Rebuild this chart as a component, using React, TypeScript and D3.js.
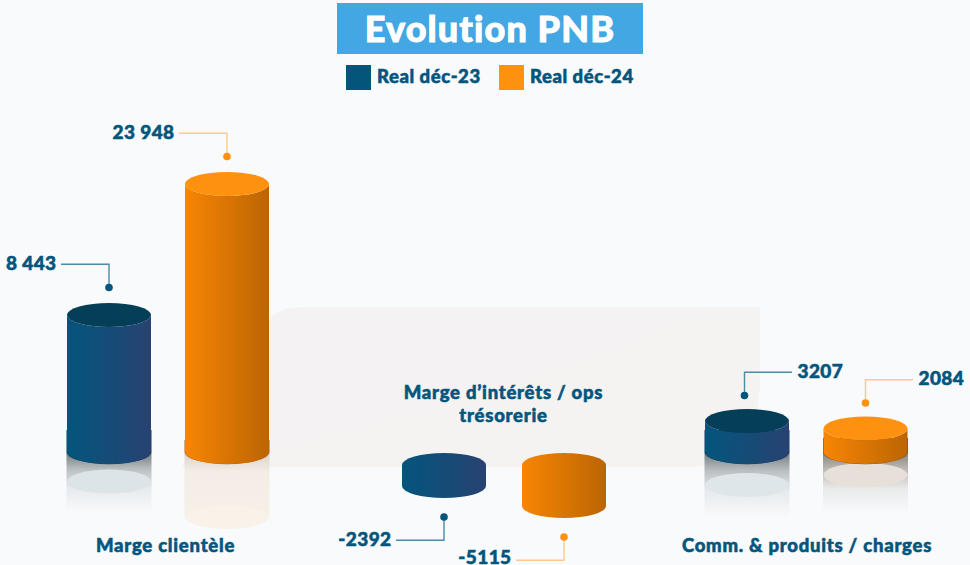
import React from "react";
import * as d3 from "d3";

const categories = ["Marge clientèle", "Marge d’intérêts / ops trésorerie", "Comm. & produits / charges"];
const seriesNames = ["Real déc-23", "Real déc-24"];
const real23 = [8443, -2392, 3207];
const real24 = [23948, -5115, 2084];
const labels23 = ["8 443", "-2392", "3207"];
const labels24 = ["23 948", "-5115", "2084"];
const knotValues = [-5115, -2392, 0, 2084, 3207, 8443, 23948];
const knotHeights = [41, 21, 0, 23.5, 31, 137, 268];

const NAVY = "#03557c";
const ORANGE = "#ff9110";
const FONT = "Lato, sans-serif";
const RX = 42;
const RY = 12;
const POS_BASE = 452;
const NEG_BASE = 465;

const reflectStyle: Record<string, { grad: string; ell: string; depth: number; end: number; band: number; bandFill: string }> = {
  "0-0": { grad: "url(#rGrey)", ell: "#dce4e7", depth: 29.5, end: 512, band: 22, bandFill: "#0a3f5c" },
  "0-1": { grad: "url(#rTan)", ell: "#f8f2e8", depth: 65, end: 517, band: 12, bandFill: "#a8600c" },
  "2-0": { grad: "url(#rGrey)", ell: "#dfe6e9", depth: 33, end: 517, band: 22, bandFill: "#0a3f5c" },
  "2-1": { grad: "url(#rWarm)", ell: "#e6e0d8", depth: 23, end: 513, band: 14, bandFill: "#7a4a10" },
};

const height = d3.scaleLinear().domain(knotValues).range(knotHeights);
const xCat = d3.scaleOrdinal<number, number>().domain([0, 1, 2]).range([109, 444, 747]);
const xOff = d3.scaleOrdinal<number, number>().domain([0, 1, 2]).range([118, 120, 118.5]);

const strong = { fontFamily: FONT, fontWeight: 900, fill: NAVY, stroke: NAVY, strokeWidth: 0.55, paintOrder: "stroke" } as const;

function Cyl({ cx, value, s, cat, label, labelSide }: { cx: number; value: number; s: number; cat: number; label: string; labelSide: "left" | "right" }) {
  const h = height(value);
  const neg = value < 0;
  const topY = neg ? NEG_BASE : POS_BASE - h;
  const botY = neg ? NEG_BASE + h : POS_BASE;
  const grad = s === 0 ? "url(#gBlue)" : "url(#gOrange)";
  const capFill = s === 0 ? "#053f57" : ORANGE;
  const stroke = s === 0 ? "#4c8aa6" : "#ffc98a";
  const dot = s === 0 ? NAVY : ORANGE;
  const body = `M${cx - RX},${topY} A${RX},${RY} 0 0 0 ${cx + RX},${topY} L${cx + RX},${botY} A${RX},${RY} 0 0 1 ${cx - RX},${botY} Z`;
  const full = `M${cx - RX},${topY} A${RX},${RY} 0 0 1 ${cx + RX},${topY} L${cx + RX},${botY} A${RX},${RY} 0 0 1 ${cx - RX},${botY} Z`;
  const dotX = cat === 2 && s === 0 ? cx - 2.5 : cx;
  const dotY = neg ? botY + 31 : topY - (cat === 2 ? 25.5 : 27.5);
  const bendY = neg ? dotY + 23.3 : dotY - 23.3;
  const lineEnd = labelSide === "left" ? dotX - 48 : dotX + 47.5;
  const rs = reflectStyle[`${cat}-${s}`];
  return (
    <g>
      {!neg && rs && (
        <g>
          <rect x={cx - RX - 0.5} y={POS_BASE} width={2 * RX + 1} height={rs.end - POS_BASE} fill={rs.grad} />
          <ellipse cx={cx} cy={POS_BASE + rs.depth} rx={RX} ry={RY} fill={rs.ell} />
          <path d={`M${cx - RX - 0.5},${POS_BASE - rs.band} L${cx + RX + 0.5},${POS_BASE - rs.band} L${cx + RX + 0.5},${POS_BASE} A${RX},${RY} 0 0 1 ${cx - RX - 0.5},${POS_BASE} Z`} fill={rs.bandFill} />
        </g>
      )}
      <path d={neg ? full : body} fill={grad} />
      {!neg && <ellipse cx={cx} cy={topY} rx={RX} ry={RY} fill={capFill} />}
      <polyline points={`${dotX},${dotY} ${dotX},${bendY} ${lineEnd},${bendY}`} fill="none" stroke={stroke} strokeWidth={1.4} />
      <circle cx={dotX} cy={dotY} r={3.8} fill={dot} />
      <text x={labelSide === "left" ? lineEnd - 4.5 : lineEnd + 5.5} y={Math.min(bendY + 5.5, 563.5)} textAnchor={labelSide === "left" ? "end" : "start"} fontSize={19} letterSpacing={0.4} {...strong}>{label}</text>
    </g>
  );
}

export default function App() {
  return (
    <svg width={970} height={565} style={{ position: "absolute", left: 0, top: 0 }}>
      <defs>
        <linearGradient id="gBlue" x1="0" x2="1" y1="0" y2="0">
          <stop offset="0" stopColor="#03557c" />
          <stop offset="1" stopColor="#284272" />
        </linearGradient>
        <linearGradient id="gOrange" x1="0" x2="1" y1="0" y2="0">
          <stop offset="0" stopColor="#f88504" />
          <stop offset="1" stopColor="#bb6503" />
        </linearGradient>
        <linearGradient id="rGrey" x1="0" x2="0" y1="0" y2="1">
          <stop offset="0" stopColor="#73787b" />
          <stop offset="0.28" stopColor="#b8bdc0" />
          <stop offset="0.6" stopColor="#e6eaec" />
          <stop offset="1" stopColor="#f8fafc" />
        </linearGradient>
        <linearGradient id="rWarm" x1="0" x2="0" y1="0" y2="1">
          <stop offset="0" stopColor="#85837e" />
          <stop offset="0.3" stopColor="#c0bcb6" />
          <stop offset="0.6" stopColor="#e9eaea" />
          <stop offset="1" stopColor="#f8fafc" />
        </linearGradient>
        <linearGradient id="rTan" x1="0" x2="0" y1="0" y2="1">
          <stop offset="0" stopColor="#d8d1c8" />
          <stop offset="0.3" stopColor="#f3ede6" />
          <stop offset="1" stopColor="#f6f0e8" />
        </linearGradient>
      </defs>
      <rect width={970} height={565} fill="#f8fafc" />
      <path d="M305,307 L760,307 L760,380 Q758,467 685,467 L180,467 L240,400 L270,318 Q280,307 305,307 Z" fill="#f4f2f3" />
      <path d="M270,452 L380,422 L470,400 L640,340 L715,307 L760,307 L760,380 Q758,467 685,467 L270,467 Z" fill="#f5f3f1" />

      <rect x={337} y={3} width={306} height={51} fill="#42a7e2" />
      <text x={490} y={42} textAnchor="middle" fontFamily={FONT} fontWeight={900} fontSize={36} letterSpacing={1.1} fill="#fff" stroke="#fff" strokeWidth={0.9}>Evolution PNB</text>

      {seriesNames.map((n, i) => (
        <g key={n}>
          <rect x={346 + i * 153} y={65} width={25} height={25} fill={i === 0 ? NAVY : ORANGE} />
          <text x={377 + i * 153} y={83} fontSize={18.5} letterSpacing={0.55} {...strong}>{n}</text>
        </g>
      ))}

      {categories.map((c, i) => {
        const cx0 = xCat(i);
        return (
          <g key={c}>
            <Cyl cx={cx0} value={real23[i]} s={0} cat={i} label={labels23[i]} labelSide={i === 2 ? "right" : "left"} />
            <Cyl cx={cx0 + xOff(i)} value={real24[i]} s={1} cat={i} label={labels24[i]} labelSide={i === 2 ? "right" : "left"} />
          </g>
        );
      })}

      <text x={165.5} y={552} textAnchor="middle" fontSize={18.5} letterSpacing={0.75} {...strong}>Marge clientèle</text>
      <text textAnchor="middle" fontSize={18.5} letterSpacing={0.75} {...strong}>
        <tspan x={503.5} y={398.5}>Marge d’intérêts / ops</tspan>
        <tspan x={503.5} y={422}>trésorerie</tspan>
      </text>
      <text x={807} y={552} textAnchor="middle" fontSize={18.5} letterSpacing={0.75} {...strong}>Comm. &amp; produits / charges</text>
    </svg>
  );
}
